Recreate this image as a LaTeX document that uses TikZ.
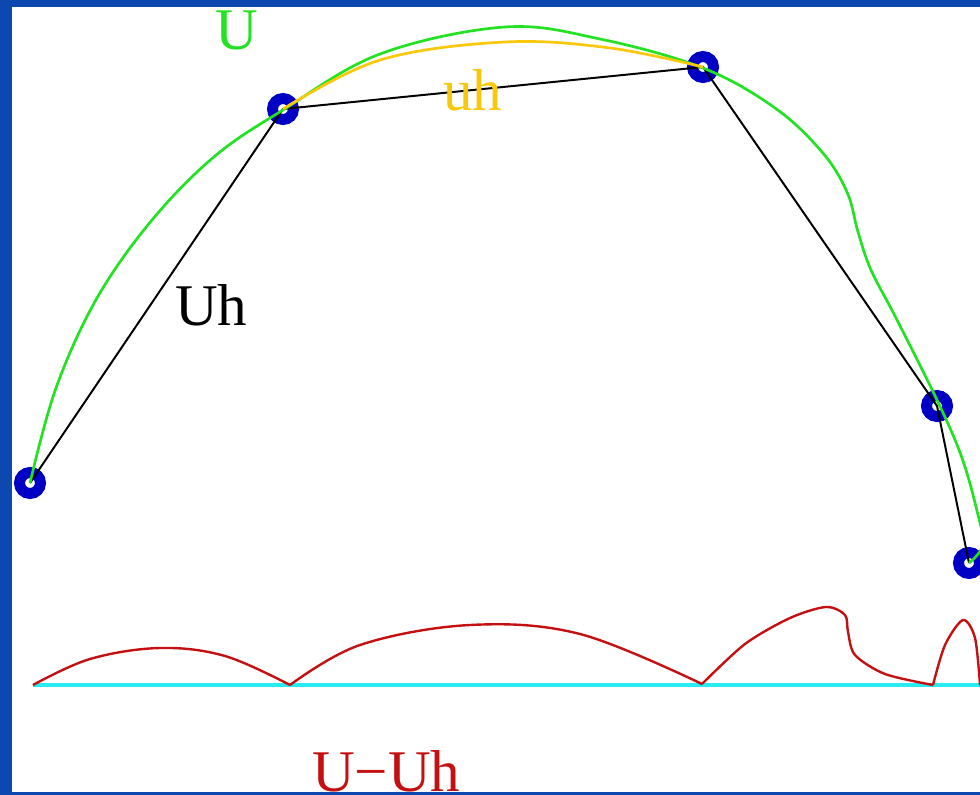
\documentclass[tikz,border=0pt]{standalone}
\usepackage{fontspec}
\setmainfont{Liberation Serif}
\definecolor{frameblue}{RGB}{12,72,176}
\definecolor{knotblue}{RGB}{0,0,196}
\definecolor{ugreen}{RGB}{34,226,34}
\definecolor{uhgold}{RGB}{250,200,10}
\definecolor{errred}{RGB}{196,16,16}
\definecolor{zerocyan}{RGB}{40,236,240}

\begin{document}
\begin{tikzpicture}[
  x=0.025cm, y=-0.025cm,
  label/.style={font=\fontsize{42}{42}\selectfont, anchor=base west, inner sep=0pt},
  knot/.style={draw=knotblue, line width=7.8pt},
  interp/.style={draw=black, line width=1.4pt, line join=round},
  exact/.style={draw=ugreen, line width=1.9pt},
  local/.style={draw=uhgold, line width=1.9pt},
  error/.style={draw=errred, line width=1.7pt, line join=round},
  zero/.style={draw=zerocyan, line width=2.2pt}
]
\useasboundingbox (0,0) rectangle (980,795);

% Frame
\fill[frameblue] (0,0) rectangle (980,795);
\fill[white] (12,7) rectangle (980,792);

% Knots
\coordinate (p1) at (30,483);
\coordinate (p2) at (283,109);
\coordinate (p3) at (703,67);
\coordinate (p4) at (937,406);
\coordinate (p5) at (969,563);
\foreach \p in {p1,p2,p3,p4,p5}
  \draw[knot] (\p) circle[radius=0.2625cm];

% Interpolant Uh
\draw[interp] (p1) -- (p2) -- (p3) -- (p4) -- (p5);

% Exact solution U
\begin{scope}
\clip (12,7) rectangle (980,792);
\draw[exact] plot[smooth, tension=0.6] coordinates {
  (30,483) (56,388) (97,298) (152,220) (215,156) (283,110)
  (380,54) (505,27) (600,39) (703,68) (775,108) (822,152)
  (847,192) (858,232) (871,270) (896,318) (937,400) (962,458)
  (978,515) (983,545) (969,563)};
\end{scope}

% Local solution uh
\draw[local] plot[smooth, tension=0.6] coordinates {
  (283,109) (380,60) (505,42) (610,48) (703,67)};

% Error U-Uh
\draw[zero] (33,685) -- (980,685);
\draw[error] plot[smooth, tension=0.6] coordinates {
  (33,685) (90,659) (160,648) (225,656) (290,685)};
\draw[error] plot[smooth, tension=0.6] coordinates {
  (290,685) (360,645) (470,625) (580,634) (702,684)};
\draw[error] plot[smooth, tension=0.5] coordinates {
  (702,684) (745,644) (790,618) (826,607) (845,615) (848,632)
  (855,655) (885,674) (933,685)};
\draw[error] plot[smooth, tension=0.5] coordinates {
  (933,685) (945,645) (963,620) (975,638) (980,685)};

% Labels
\node[label, text=ugreen] (lblU) at (215,50) {U};
\node[label, text=uhgold] (lbluh) at (443,110) {uh};
\node[label, text=black] (lblUh) at (175,325) {Uh};
\node[label, text=errred] (lblerr) at (312,791) {U−Uh};

\fill[frameblue] (0,792) rectangle (980,795);
\end{tikzpicture}
\end{document}
